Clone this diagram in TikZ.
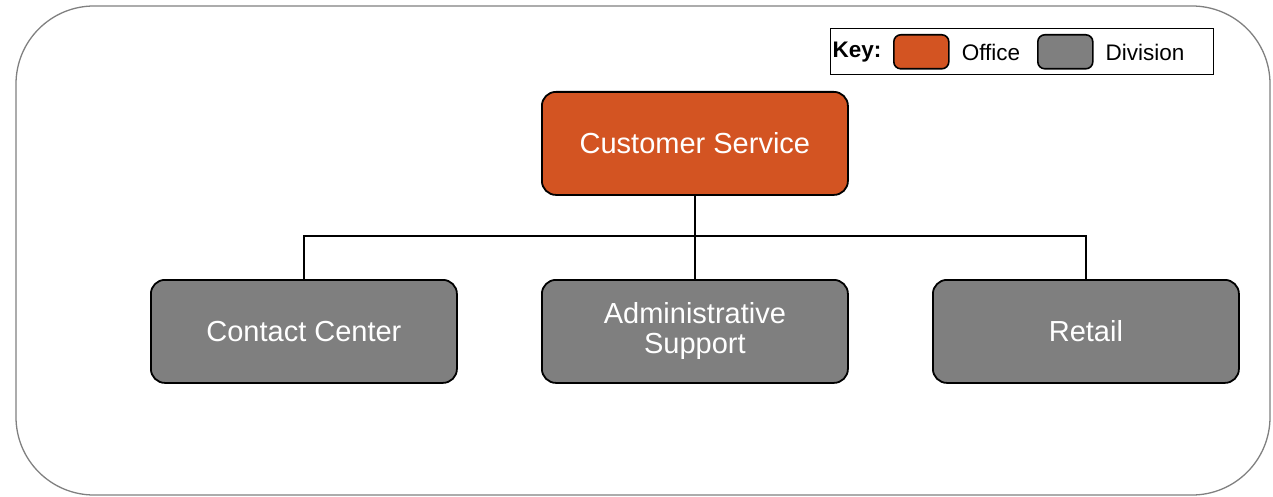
\documentclass[tikz,border=0pt]{standalone}
\usepackage{fontspec}
\setmainfont{Liberation Sans}
\definecolor{office}{HTML}{D35422}
\definecolor{division}{HTML}{7F7F7F}
\definecolor{frame}{HTML}{808080}
\begin{document}
\begin{tikzpicture}[x=1pt,y=-1pt,
  box/.style={draw=black,line width=1.8pt,rounded corners=14pt,minimum width=306pt,minimum height=103pt,text=white,font=\fontsize{29}{30}\selectfont,align=center,anchor=north west,inner sep=0pt},
  swatch/.style={draw=black,line width=1.6pt,rounded corners=7pt,minimum width=55pt,minimum height=34pt,anchor=north west,inner sep=0pt},
  conn/.style={draw=black,line width=1.5pt},
  keytext/.style={font=\fontsize{22.5}{26}\selectfont,anchor=center}]
\useasboundingbox (0,0) rectangle (1273,497);
\draw[frame,line width=1.3pt,rounded corners=78pt] (16,6) rectangle (1270,495);
% key
\node[draw=black,line width=1.2pt,minimum width=383pt,minimum height=46pt,anchor=north west,inner sep=0pt] (key) at (830,28) {};
\node[keytext,font=\fontsize{22.5}{26}\selectfont\bfseries] (keylbl) at (857,52) {Key:};
\node[swatch,fill=office] (sw1) at (893,34) {};
\node[keytext] (off) at (991,52) {Office};
\node[swatch,fill=division] (sw2) at (1037,34) {};
\node[keytext] (div) at (1145,52) {Division};
% boxes
\node[box,fill=office] (cs) at (541,91) {Customer Service};
\node[box,fill=division] (cc) at (150,279) {Contact Center};
\node[box,fill=division] (as) at (541,279) {Administrative\\Support};
\node[box,fill=division] (rt) at (932,279) {Retail};
\coordinate (j) at (694,236);
\draw[conn] (cs.south) -- (as.north);
\draw[conn] (cc.north) |- (j) -| (rt.north);
\end{tikzpicture}
\end{document}
